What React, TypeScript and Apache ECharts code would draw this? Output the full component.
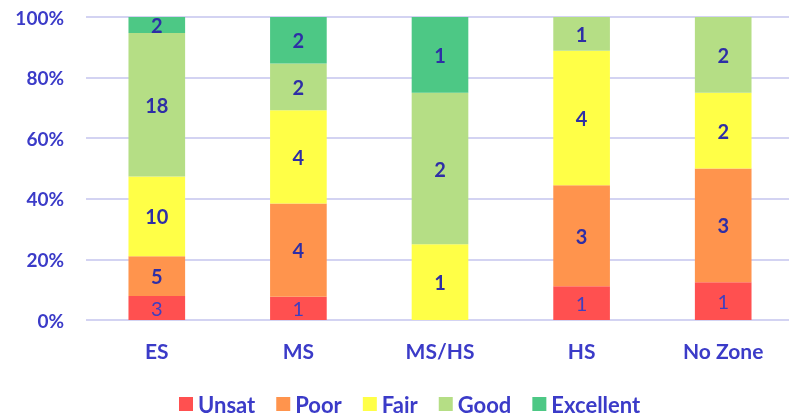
import React, { useEffect, useRef } from "react";
import * as echarts from "echarts";

const categories = ["ES", "MS", "MS/HS", "HS", "No Zone"];
const seriesNames = ["Unsat", "Poor", "Fair", "Good", "Excellent"];
const unsat = [3, 1, 0, 1, 1];
const poor = [5, 4, 0, 3, 3];
const fair = [10, 4, 1, 4, 2];
const good = [18, 2, 2, 1, 2];
const excellent = [2, 2, 1, 0, 0];
const colors = ["#FF5050", "#FF944D", "#FFFF47", "#B5DE85", "#4DC885"];
const yTicks = [0, 20, 40, 60, 80, 100];

const counts = [unsat, poor, fair, good, excellent];
const totals = categories.map((_, i) => counts.reduce((s, arr) => s + arr[i], 0));

export default function App() {
  const ref = useRef<HTMLDivElement>(null);
  useEffect(() => {
    const chart = echarts.init(ref.current!, null, { renderer: "svg" });
    const font = "Lato, 'Open Sans', sans-serif";
    chart.setOption({
      animation: false,
      textStyle: { fontFamily: font },
      grid: { left: 86, right: 6, top: 17, bottom: 97 },
      legend: {
        top: 388,
        left: 174,
        itemWidth: 14,
        itemHeight: 14,
        itemGap: 21,
        icon: "rect",
        textStyle: { color: "#3B3BC8", fontSize: 22, fontWeight: "bold", fontFamily: font },
        data: seriesNames,
      },
      xAxis: {
        type: "category",
        data: categories,
        axisLine: { show: false },
        axisTick: { show: false },
        axisLabel: { color: "#3B3BC8", fontSize: 21, fontWeight: "bold", margin: 20, fontFamily: font },
      },
      yAxis: {
        type: "value",
        min: 0,
        max: 100,
        interval: 20,
        axisLabel: {
          color: "#3B3BC8",
          fontSize: 19,
          fontWeight: "bold",
          margin: 22,
          fontFamily: font,
          formatter: (v: number) => (yTicks.includes(v) ? v + "%" : ""),
        },
        splitLine: { lineStyle: { color: "#D3D3F2", width: 2 } },
      },
      series: seriesNames.map((name, si) => ({
        name,
        type: "bar",
        stack: "total",
        barWidth: "40%",
        itemStyle: { color: colors[si] },
        label: {
          show: true,
          position: "inside",
          color: si === 0 ? "#3F3FC0" : "#2E2EA6",
          fontSize: 20,
          fontWeight: si === 0 ? "normal" : "bold",
          fontFamily: font,
          formatter: (p: any) => {
            const c = counts[si][p.dataIndex];
            return c === 0 ? "" : String(c);
          },
        },
        data: counts[si].map((c, i) => (c / totals[i]) * 100),
      })),
    });
    return () => chart.dispose();
  }, []);
  return (
    <div style={{ position: "fixed", left: 0, top: 0, width: 789, height: 417, overflow: "hidden" }}>
      <div ref={ref} style={{ width: 800, height: 417 }} />
    </div>
  );
}
